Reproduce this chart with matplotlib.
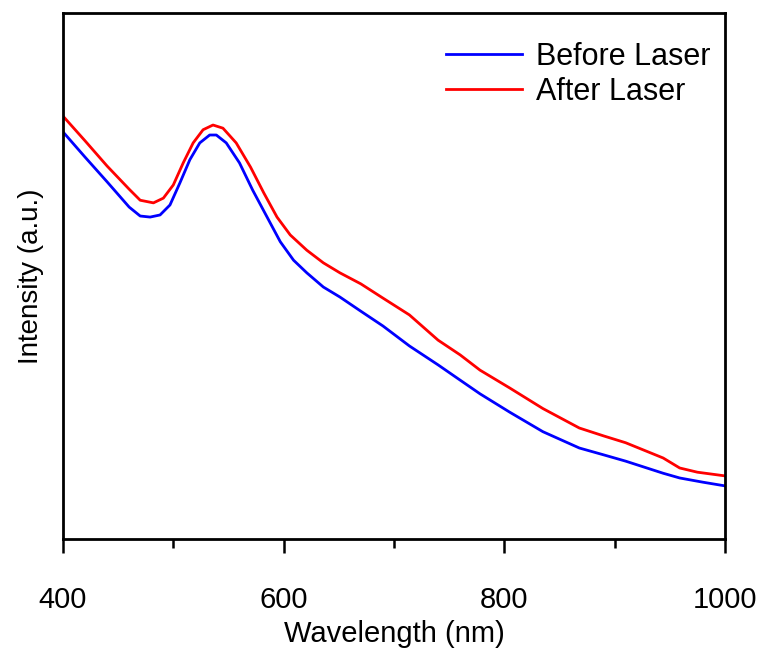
import matplotlib.pyplot as plt
import numpy as np

plt.rcParams['font.family'] = ['Liberation Sans', 'DejaVu Sans']

# Data (intensity in arbitrary units)
wl_before = np.array([400, 420, 440, 460, 470, 479, 488, 497, 506, 515, 524, 533, 539, 548,
                      560, 572, 585, 597, 609, 621, 636, 651, 670, 690, 714, 740, 760, 778,
                      805, 835, 868, 890, 910, 944, 959, 980, 1000])
int_before = np.array([0.774, 0.726, 0.679, 0.631, 0.614, 0.612, 0.616, 0.635, 0.677, 0.721,
                       0.753, 0.768, 0.768, 0.753, 0.715, 0.663, 0.612, 0.565, 0.530, 0.506,
                       0.479, 0.460, 0.433, 0.405, 0.367, 0.331, 0.302, 0.276, 0.241, 0.204,
                       0.173, 0.160, 0.148, 0.125, 0.116, 0.108, 0.101])

wl_after = np.array([400, 420, 440, 460, 470, 482, 491, 500, 509, 518, 527, 536, 545, 557,
                     570, 582, 594, 606, 621, 636, 651, 670, 690, 714, 740, 760, 778, 805,
                     835, 868, 890, 910, 944, 959, 975, 1000])
int_after = np.array([0.804, 0.757, 0.709, 0.665, 0.644, 0.639, 0.648, 0.673, 0.715, 0.753,
                      0.778, 0.787, 0.781, 0.753, 0.707, 0.658, 0.612, 0.578, 0.549, 0.525,
                      0.506, 0.485, 0.458, 0.426, 0.378, 0.350, 0.321, 0.287, 0.248, 0.211,
                      0.196, 0.183, 0.154, 0.135, 0.127, 0.120])

fig = plt.figure(figsize=(7.66, 6.55), dpi=100)
ax = fig.add_axes([0.0822, 0.1771, 0.8642, 0.8031])

ax.plot(wl_before, int_before, color='#0000ff', linewidth=2.0, label='Before Laser')
ax.plot(wl_after, int_after, color='#ff0000', linewidth=2.0, label='After Laser')

ax.set_xlim(400, 1000)
ax.set_ylim(0, 1)
ax.set_xticks([400, 600, 800, 1000])
ax.set_xticks([500, 700, 900], minor=True)
ax.set_yticks([])
ax.tick_params(axis='x', which='major', direction='out', length=10, width=1.8,
               labelsize=21, pad=24)
ax.tick_params(axis='x', which='minor', direction='out', length=6.5, width=1.8)
for s in ax.spines.values():
    s.set_linewidth(2.0)

ax.set_xlabel('Wavelength (nm)', fontsize=21, labelpad=4)
ax.set_ylabel('Intensity (a.u.)', fontsize=20, labelpad=14)

ax.legend(loc='upper right', bbox_to_anchor=(0.997, 0.968), frameon=False, fontsize=22,
          handlelength=2.5, handletextpad=0.45, labelspacing=0.15, borderaxespad=0.0)

plt.savefig('out.png', dpi=100)
